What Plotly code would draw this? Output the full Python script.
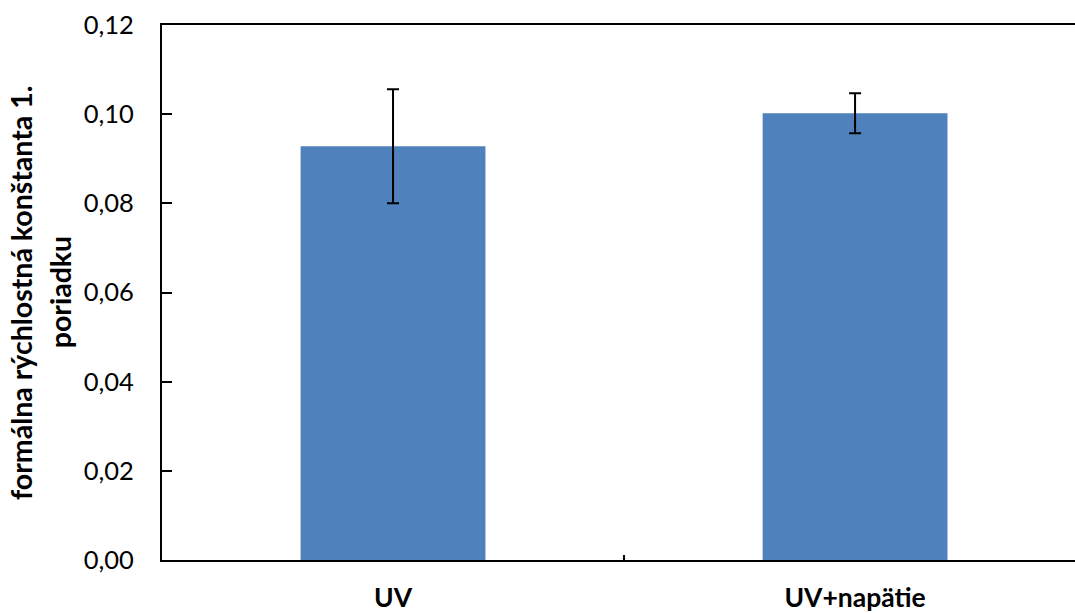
import plotly.graph_objects as go

# Rate constants for the two treatments, with their standard deviations
categories = ["UV", "UV+napätie"]
rate_constant = [0.0928, 0.1002]
rate_error = [0.0128, 0.0045]

y_ticks = [0.0, 0.02, 0.04, 0.06, 0.08, 0.10, 0.12]

FONT = "Lato"
BAR_COLOR = "#4F81BD"

fig = go.Figure(
    go.Bar(
        x=categories,
        y=rate_constant,
        width=0.4,
        marker=dict(color=BAR_COLOR, line=dict(width=0)),
        error_y=dict(
            type="data",
            array=rate_error,
            symmetric=True,
            color="black",
            thickness=2,
            width=6,
        ),
    )
)

fig.update_layout(
    width=1075,
    height=613,
    margin=dict(l=162, r=0, t=25, b=53),
    paper_bgcolor="white",
    plot_bgcolor="white",
    separators=", ",
    showlegend=False,
    font=dict(family=FONT, color="black"),
)

fig.update_xaxes(
    range=[-0.5, 1.476],
    showline=True,
    linecolor="black",
    linewidth=2,
    mirror=True,
    showgrid=False,
    ticks="inside",
    tickson="boundaries",
    ticklen=5,
    tickwidth=1.5,
    tickcolor="black",
    tickfont=dict(family=FONT, size=26.5, color="black", weight="bold"),
    ticklabelstandoff=13,
)

fig.update_yaxes(
    range=[0, 0.12],
    tickvals=y_ticks,
    tickformat=".2f",
    showline=True,
    linecolor="black",
    linewidth=2,
    mirror=False,
    showgrid=False,
    zeroline=False,
    ticks="inside",
    ticklen=10,
    tickwidth=2,
    tickcolor="black",
    tickfont=dict(family=FONT, size=25.5, color="black"),
    ticklabelstandoff=21,
)

# Two-line vertical axis title
title_lines = ["formálna rýchlostná konštanta 1.", "poriadku"]
title_x = [-0.155, -0.112]
for text, xpos in zip(title_lines, title_x):
    fig.add_annotation(
        text=text,
        xref="paper",
        yref="paper",
        x=xpos,
        y=0.5,
        xanchor="center",
        yanchor="middle",
        textangle=-90,
        showarrow=False,
        font=dict(family=FONT, size=28.5, color="black", weight="bold"),
    )

fig.write_html("out.html")
